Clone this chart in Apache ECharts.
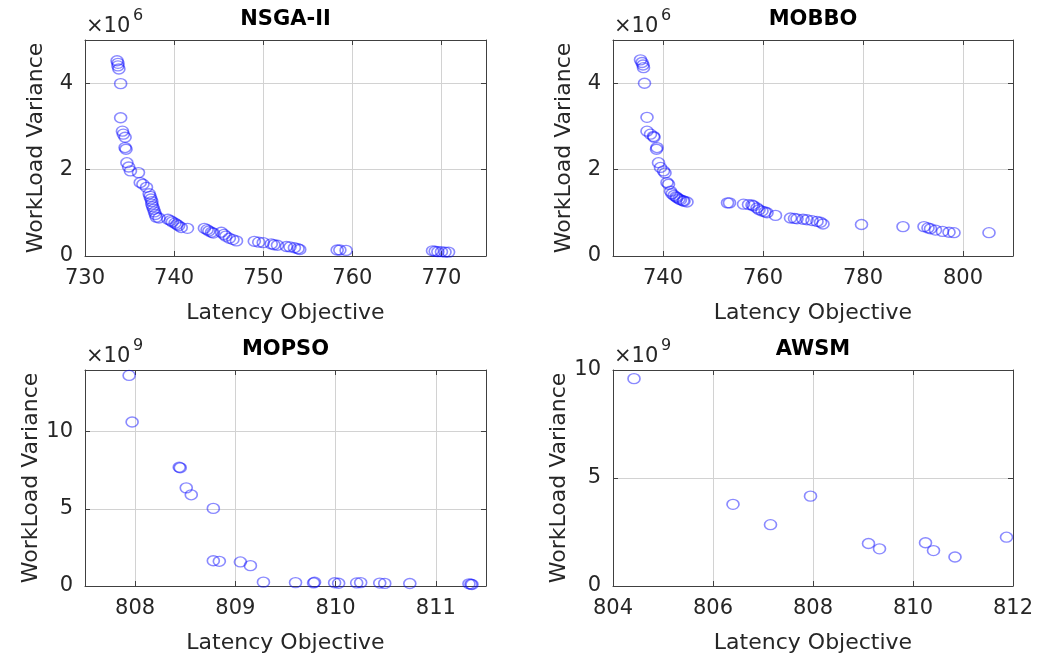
<!DOCTYPE html>
<html><head><meta charset="utf-8">
<script src="https://cdn.jsdelivr.net/npm/echarts@6/dist/echarts.min.js"></script>
<style>html,body{margin:0;padding:0;background:#fff}#c{width:1038px;height:664px}</style>
</head><body><div id="c"></div>
<script>
// Data: [Latency Objective, WorkLoad Variance (scaled by the panel exponent)]
const nsgaPoints = [[733.6,4.52],[733.7,4.46],[733.7,4.40],[733.8,4.33],[734.0,3.99],[734.0,3.20],[734.2,2.89],[734.3,2.82],[734.5,2.75],[734.5,2.51],[734.6,2.47],[734.7,2.16],[734.9,2.06],[735.1,1.97],[736.0,1.93],[736.2,1.70],[736.5,1.66],[736.9,1.59],[737.2,1.44],[737.3,1.38],[737.4,1.32],[737.5,1.26],[737.5,1.20],[737.6,1.14],[737.7,1.08],[737.8,1.02],[737.9,0.96],[738.0,0.90],[738.3,0.88],[739.3,0.85],[739.6,0.82],[739.8,0.79],[740.1,0.76],[740.3,0.73],[740.5,0.70],[740.8,0.66],[741.5,0.64],[743.4,0.64],[743.7,0.61],[743.9,0.58],[744.2,0.55],[744.4,0.53],[745.3,0.55],[745.6,0.50],[745.8,0.46],[746.2,0.41],[746.6,0.38],[747.0,0.35],[749.0,0.34],[749.5,0.32],[750.0,0.31],[750.9,0.28],[751.2,0.26],[751.6,0.25],[752.6,0.22],[753.0,0.21],[753.5,0.19],[753.9,0.17],[754.1,0.15],[758.3,0.14],[758.6,0.14],[759.3,0.13],[769.0,0.12],[769.3,0.11],[769.6,0.10],[770.0,0.10],[770.4,0.09],[770.8,0.09]];
const mobboPoints = [[735.5,4.54],[735.8,4.48],[736.0,4.42],[736.1,4.36],[736.3,4.00],[736.8,3.21],[736.8,2.89],[737.5,2.82],[738.1,2.77],[738.2,2.75],[738.8,2.51],[738.7,2.47],[739.1,2.16],[739.5,2.05],[740.1,1.97],[740.4,1.92],[740.8,1.70],[741.1,1.66],[741.5,1.50],[741.8,1.44],[742.2,1.40],[742.6,1.37],[742.8,1.35],[743.2,1.32],[743.5,1.30],[744.0,1.28],[744.2,1.27],[744.8,1.25],[752.9,1.23],[753.3,1.23],[756.1,1.20],[757.1,1.19],[757.8,1.18],[758.1,1.16],[758.8,1.11],[759.2,1.07],[759.8,1.04],[760.4,1.02],[760.8,1.00],[762.5,0.94],[765.5,0.88],[766.3,0.87],[766.8,0.86],[768.0,0.85],[768.8,0.84],[769.8,0.82],[770.8,0.80],[771.5,0.78],[772.0,0.74],[779.7,0.73],[788.0,0.68],[792.2,0.68],[793.0,0.65],[793.5,0.63],[794.5,0.60],[795.9,0.57],[797.2,0.55],[798.2,0.54],[805.2,0.54]];
const mopsoPoints = [[807.94,13.65],[807.97,10.63],[808.44,7.70],[808.45,7.66],[808.51,6.36],[808.56,5.91],[808.78,5.03],[808.78,1.64],[808.84,1.60],[809.05,1.56],[809.15,1.32],[809.28,0.25],[809.60,0.22],[809.78,0.20],[809.79,0.24],[809.99,0.21],[810.03,0.18],[810.21,0.20],[810.25,0.22],[810.44,0.19],[810.49,0.17],[810.74,0.16],[811.33,0.14],[811.35,0.12],[811.36,0.10]];
const awsmPoints = [[804.42,9.60],[806.40,3.78],[807.15,2.84],[807.95,4.16],[809.11,1.97],[809.33,1.72],[810.25,2.00],[810.41,1.64],[810.84,1.34],[811.87,2.26]];

const panelTitles = ['NSGA-II','MOBBO','MOPSO','AWSM'];
const exponents = ['6','6','9','9'];
const xTicks = [[730,740,750,760,770],[740,760,780,800],[808,809,810,811],[804,806,808,810,812]];
const yTicks = [[0,2,4],[0,2,4],[0,5,10],[0,5,10]];
const xRanges = [[730,775],[730,810],[807.5,811.5],[804,812]];
const yRanges = [[0,5],[0,5],[0,14],[0,10]];
const xName = 'Latency Objective';
const yName = 'WorkLoad Variance';
const allPoints = [nsgaPoints, mobboPoints, mopsoPoints, awsmPoints];

const FONT = 'DejaVu Sans';
const TXT = '#262626';
const AX = '#404040';
const GRIDC = '#d2d2d2';

const grids = [
  {left:85, top:40, width:401, height:216},
  {left:613, top:40, width:400, height:216},
  {left:85, top:370, width:401, height:216},
  {left:613, top:370, width:400, height:216}
];

const xAxes = [], yAxes = [], series = [], graphics = [];
grids.forEach((g, i) => {
  xAxes.push({
    gridIndex:i, type:'value', position:'bottom', min:xRanges[i][0], max:xRanges[i][1],
    axisLine:{show:true, onZero:false, lineStyle:{color:AX, width:1}},
    axisTick:{show:true, inside:true, length:5, customValues:xTicks[i], lineStyle:{color:AX}},
    axisLabel:{show:true, customValues:xTicks[i], margin:12, fontSize:21, fontFamily:FONT, color:TXT},
    splitLine:{show:true, lineStyle:{color:GRIDC, width:1}},
    name:xName, nameLocation:'middle', nameGap:46,
    nameTextStyle:{fontSize:22, fontFamily:FONT, color:TXT}
  });
  xAxes.push({
    gridIndex:i, type:'value', position:'top', min:xRanges[i][0], max:xRanges[i][1],
    axisLine:{show:true, onZero:false, lineStyle:{color:AX, width:1}},
    axisTick:{show:true, inside:true, length:5, customValues:xTicks[i], lineStyle:{color:AX}},
    axisLabel:{show:false}, splitLine:{show:false}
  });
  yAxes.push({
    gridIndex:i, type:'value', position:'left', min:yRanges[i][0], max:yRanges[i][1],
    axisLine:{show:true, onZero:false, lineStyle:{color:AX, width:1}},
    axisTick:{show:true, inside:true, length:5, customValues:yTicks[i], lineStyle:{color:AX}},
    axisLabel:{show:true, customValues:yTicks[i], margin:12, fontSize:21, fontFamily:FONT, color:TXT},
    splitLine:{show:true, lineStyle:{color:GRIDC, width:1}},
    name:yName, nameLocation:'middle', nameGap:38, nameRotate:90,
    nameTextStyle:{fontSize:22, fontFamily:FONT, color:TXT}
  });
  yAxes.push({
    gridIndex:i, type:'value', position:'right', min:yRanges[i][0], max:yRanges[i][1],
    axisLine:{show:true, onZero:false, lineStyle:{color:AX, width:1}},
    axisTick:{show:true, inside:true, length:5, customValues:yTicks[i], lineStyle:{color:AX}},
    axisLabel:{show:false}, splitLine:{show:false}
  });
  series.push({
    type:'scatter', xAxisIndex:2*i, yAxisIndex:2*i, data:allPoints[i],
    symbol:'circle', symbolSize:[12,10], silent:true,
    itemStyle:{color:'rgba(0,0,0,0)', borderColor:'rgba(10,10,255,0.6)', borderWidth:1.5},
    emphasis:{disabled:true}
  });
  const cx = g.left + g.width/2;
  const ty = (i < 2) ? 20 : 350;
  graphics.push({type:'text', x:cx, y:ty, silent:true,
    style:{text:panelTitles[i], font:'bold 21px "DejaVu Sans"', fill:'#000', textAlign:'center', textVerticalAlign:'middle'}});
  const ey = (i < 2) ? 27 : 357;
  graphics.push({type:'text', x:g.left+1, y:ey, silent:true,
    style:{text:'\u00d710', font:'21px "DejaVu Sans"', fill:TXT, textAlign:'left', textVerticalAlign:'middle'}});
  graphics.push({type:'text', x:g.left+48, y:ey-11, silent:true,
    style:{text:exponents[i], font:'16px "DejaVu Sans"', fill:TXT, textAlign:'left', textVerticalAlign:'middle'}});
});

const chart = echarts.init(document.getElementById('c'), null, {renderer:'canvas'});
chart.setOption({
  animation:false,
  backgroundColor:'#fff',
  grid:grids,
  xAxis:xAxes,
  yAxis:yAxes,
  series:series,
  graphic:graphics
});
</script></body></html>
